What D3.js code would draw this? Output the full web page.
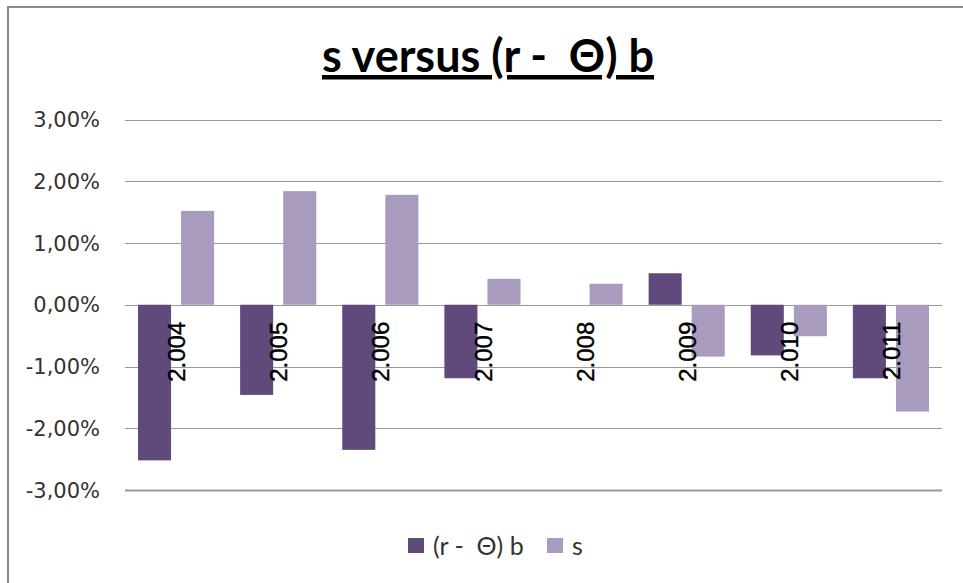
<!DOCTYPE html>
<html lang="en">
<head>
    <meta charset="utf-8">
    <title>s versus (r - Θ) b</title>
    <script src="https://d3js.org/d3.v7.js"></script>
    <style>
        body { margin: 0; background: #fff; }
        text { white-space: pre; }
    </style>
</head>
<body>
<svg width="963" height="583"></svg>
<script type="text/javascript">
    // chart data
    const years = ["2.004", "2.005", "2.006", "2.007", "2.008", "2.009", "2.010", "2.011"];
    const seriesNames = ["(r -  \u0398) b", "s"];
    const rThetaB = [-0.0252, -0.0146, -0.0235, -0.0119, 0, 0.0051, -0.0082, -0.0119];
    const sValues = [0.0152, 0.0184, 0.0178, 0.0042, 0.0034, -0.0084, -0.0051, -0.0173];
    const yTicks = [0.03, 0.02, 0.01, 0, -0.01, -0.02, -0.03];
    const colors = ["#604a7b", "#a99bbd"];

    const svg = d3.select("svg");

    // outer chart frame (only top/left visible in the crop)
    svg.append("rect")
        .attr("x", 8).attr("y", 7)
        .attr("width", 1000).attr("height", 1000)
        .attr("fill", "none")
        .attr("stroke", "#898989")
        .attr("stroke-width", 2);

    // title
    svg.append("text")
        .attr("x", 488).attr("y", 72)
        .attr("text-anchor", "middle")
        .style("font-family", "Lato, 'Open Sans', sans-serif")
        .style("font-weight", "bold")
        .style("font-size", "45px")
        .style("text-decoration", "underline")
        .attr("fill", "#000")
        .text("s versus (r -  \u0398) b");

    const x0 = d3.scaleBand()
        .domain(years)
        .range([125, 942]);

    const x1 = d3.scaleBand()
        .domain([0, 1])
        .range([0, x0.bandwidth()])
        .paddingInner(0.2326)
        .paddingOuter(0.302);

    const y = d3.scaleLinear()
        .domain([-0.03, 0.03])
        .range([490, 119.5]);

    // Excel-style labels: decimal comma and plain hyphen for minus
    const fmt = v => d3.format(".2%")(v).replace(".", ",").replace("\u2212", "-");

    // gridlines
    svg.append("g")
        .selectAll("line")
        .data(yTicks)
        .join("line")
        .attr("x1", 125).attr("x2", 942)
        .attr("y1", d => Math.round(y(d)) + 0.5)
        .attr("y2", d => Math.round(y(d)) + 0.5)
        .attr("stroke", "#999")
        .attr("stroke-width", d => d === -0.03 ? 2 : 1.2);

    // y axis labels
    svg.append("g")
        .selectAll("text")
        .data(yTicks)
        .join("text")
        .attr("x", 100)
        .attr("y", d => y(d))
        .attr("dy", "0.36em")
        .attr("text-anchor", "end")
        .style("font-family", "'DejaVu Sans', sans-serif")
        .style("font-size", "21px")
        .attr("fill", "#333")
        .text(fmt);

    // bars
    const rows = years.map((yr, i) => ({ yr, vals: [rThetaB[i], sValues[i]] }));
    svg.append("g")
        .selectAll("g")
        .data(rows)
        .join("g")
        .attr("transform", d => `translate(${x0(d.yr)},0)`)
        .selectAll("rect")
        .data(d => d.vals.map((v, k) => ({ v, k })))
        .join("rect")
        .attr("x", d => x1(d.k))
        .attr("width", x1.bandwidth())
        .attr("y", d => y(Math.max(0, d.v)))
        .attr("height", d => Math.abs(y(d.v) - y(0)))
        .attr("fill", d => colors[d.k]);

    // category labels, rotated, sitting just below the zero line
    svg.append("g")
        .selectAll("text")
        .data(years)
        .join("text")
        .attr("transform", d => `translate(${x0(d) + x0.bandwidth() / 2 + 0.5},${y(0) + 17}) rotate(-90)`)
        .attr("text-anchor", "end")
        .attr("dy", "0.36em")
        .style("font-family", "'Liberation Sans', Arial, sans-serif")
        .style("font-size", "24px")
        .attr("fill", "#000")
        .attr("stroke", "#000")
        .attr("stroke-width", 0.4)
        .text(d => d);

    // legend
    const legend = svg.append("g");
    const legendItems = [
        { name: seriesNames[0], x: 408 },
        { name: seriesNames[1], x: 547 }
    ];
    legendItems.forEach((d, i) => {
        legend.append("rect")
            .attr("x", d.x).attr("y", 538)
            .attr("width", 16).attr("height", 15)
            .attr("fill", colors[i]);
        legend.append("text")
            .attr("x", d.x + 25).attr("y", 546)
            .attr("dy", "0.36em")
            .style("font-family", "Lato, 'Open Sans', sans-serif")
            .style("font-size", "25px")
            .attr("fill", "#333")
            .text(d.name);
    });
</script>
</body>
</html>
